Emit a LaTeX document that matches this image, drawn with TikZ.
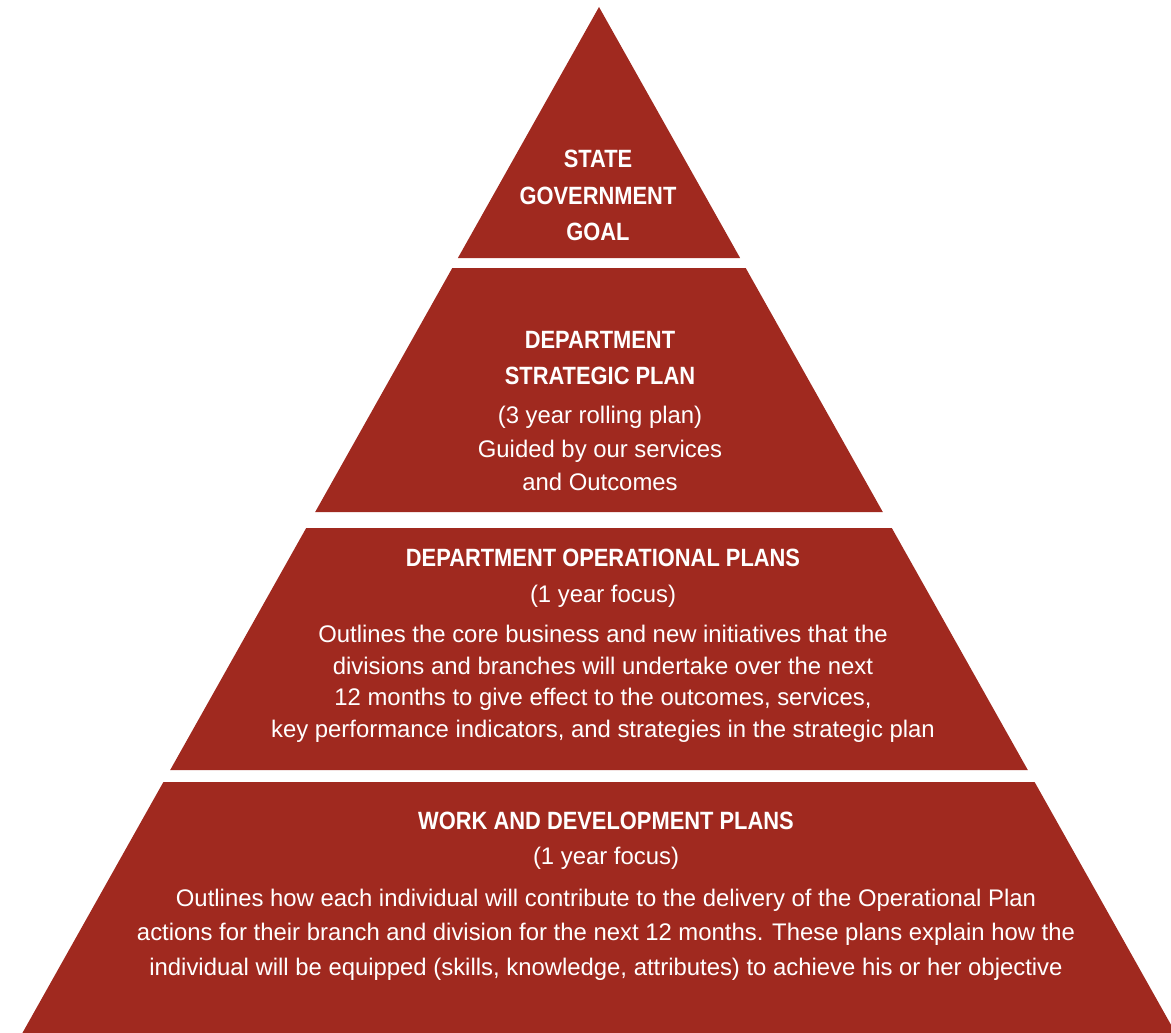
\documentclass[tikz,border=0pt]{standalone}
\usepackage{fontspec}
\setmainfont{Liberation Sans}
\newfontfamily\hbfont[FakeStretch=0.875]{Liberation Sans}
\newfontfamily\hrfont[FakeStretch=0.995]{Liberation Sans}
\definecolor{pyr}{RGB}{160,41,31}
\begin{document}
\begin{tikzpicture}[x=1pt,y=-1pt,
 tier/.style={fill=pyr},
 hd/.style={anchor=base,text=white,font=\hbfont\bfseries\fontsize{25}{30}\selectfont,inner sep=0pt},
 bd/.style={anchor=base,text=white,font=\hrfont\fontsize{24}{29}\selectfont,inner sep=0pt}]
\useasboundingbox (0,0) rectangle (1171,1033);
% tiers
\fill[tier] (599,7) -- (740.1,258) -- (457.9,258) -- cycle;
\fill[tier] (452.3,268) -- (745.7,268) -- (882.8,512) -- (315.2,512) -- cycle;
\fill[tier] (306.2,528) -- (891.8,528) -- (1027.8,770) -- (170.2,770) -- cycle;
\fill[tier] (163.4,782) -- (1034.6,782) -- (1175.6,1033) -- (22.4,1033) -- cycle;
% tier 1
\node[hd] (t1a) at (598,167) {STATE};
\node[hd] (t1b) at (598,204) {GOVERNMENT};
\node[hd] (t1c) at (598,240) {GOAL};
% tier 2
\node[hd] (t2a) at (600,348) {DEPARTMENT};
\node[hd] (t2b) at (600,384) {STRATEGIC PLAN};
\node[bd] (t2c) at (600,423) {(3 year rolling plan)};
\node[bd] (t2d) at (600,457) {Guided by our services};
\node[bd] (t2e) at (600,490) {and Outcomes};
% tier 3
\node[hd] (t3a) at (603,566) {DEPARTMENT OPERATIONAL PLANS};
\node[bd] (t3b) at (603,602) {(1 year focus)};
\node[bd] (t3c) at (603,642) {Outlines the core business and new initiatives that the};
\node[bd] (t3d) at (603,674) {divisions and branches will undertake over the next};
\node[bd] (t3e) at (603,705) {12 months to give effect to the outcomes, services,};
\node[bd] (t3f) at (603,737) {key performance indicators, and strategies in the strategic plan};
% tier 4
\node[hd] (t4a) at (606,829) {WORK AND DEVELOPMENT PLANS};
\node[bd] (t4b) at (606,864) {(1 year focus)};
\node[bd] (t4c) at (606,906) {Outlines how each individual will contribute to the delivery of the Operational Plan};
\node[bd] (t4d) at (606,940) {actions for their branch and division for the next 12 months. These plans explain how the};
\node[bd] (t4e) at (606,975) {individual will be equipped (skills, knowledge, attributes) to achieve his or her objective};
\end{tikzpicture}
\end{document}
